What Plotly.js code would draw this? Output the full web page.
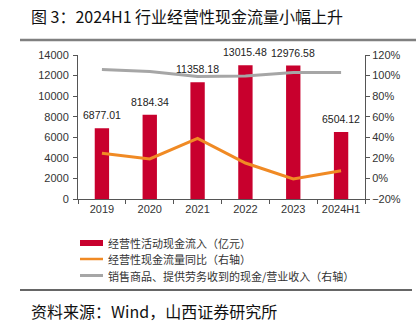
<!DOCTYPE html>
<html><head><meta charset="utf-8">
<script src="https://cdn.plot.ly/plotly-3.0.1.min.js"></script>
<style>html,body{margin:0;padding:0;background:#fff}#chart{width:416px;height:324px}</style>
</head><body><div id="chart"></div>
<script>
const categories = ["2019","2020","2021","2022","2023","2024H1"];
const inflow = [6877.01, 8184.34, 11358.18, 13015.48, 12976.58, 6504.12];
const inflowLabels = ["6877.01","8184.34","11358.18","13015.48","12976.58","6504.12"];
const yoy = [24.5, 19, 39, 15, -0.5, 7.5];
const cashRatio = [106, 104, 99, 99.5, 103, 103];
const seriesNames = ["经营性活动现金流入（亿元）","经营性现金流量同比（右轴）","销售商品、提供劳务收到的现金/营业收入（右轴）"];
const titleText = "图 3：2024H1 行业经营性现金流量小幅上升";
const sourceText = "资料来源：Wind，山西证券研究所";

const L=78, R=365, T=55, B=199, W=416, H=324;
const px = x => (x-L)/(R-L);
const py = y => (B-y)/(B-T);
const cjk = "Liberation Sans, Noto Sans CJK SC, sans-serif";
const red="#C8002D", orange="#F08A24", gray="#A6A6A6";

const traces = [
  {type:"bar", x:categories, y:inflow, name:seriesNames[0], marker:{color:red},
   showlegend:false, hoverinfo:"skip"},
  {type:"scatter", mode:"lines", x:categories, y:yoy, yaxis:"y2", name:seriesNames[1],
   line:{color:orange,width:3}, showlegend:false},
  {type:"scatter", mode:"lines", x:categories, y:cashRatio, yaxis:"y2", name:seriesNames[2],
   line:{color:gray,width:3}, showlegend:false}
];

const legendY=[243,259,275.5];
const shapes = [
  {type:"line", xref:"paper", yref:"paper", x0:px(20), x1:px(416), y0:py(40), y1:py(40), line:{color:"#808080",width:2.5}},
  {type:"line", xref:"paper", yref:"paper", x0:px(20), x1:px(412), y0:py(290), y1:py(290), line:{color:"#333",width:1.5}},
  {type:"line", xref:"paper", yref:"paper", x0:px(80), x1:px(103), y0:py(legendY[0]), y1:py(legendY[0]), line:{color:red,width:6}},
  {type:"line", xref:"paper", yref:"paper", x0:px(80), x1:px(103), y0:py(legendY[1]), y1:py(legendY[1]), line:{color:orange,width:2.5}},
  {type:"line", xref:"paper", yref:"paper", x0:px(80), x1:px(103), y0:py(legendY[2]), y1:py(legendY[2]), line:{color:gray,width:3}}
];
const annotations = [
  {xref:"paper", yref:"paper", x:px(29), y:py(16), xanchor:"left", yanchor:"middle", showarrow:false,
   text:titleText, font:{size:16,color:"#111",family:"Noto Sans CJK SC, sans-serif"}},
  {xref:"paper", yref:"paper", x:px(29), y:py(311), xanchor:"left", yanchor:"middle", showarrow:false,
   text:sourceText, font:{size:16,color:"#111",family:"Noto Sans CJK SC, sans-serif"}}
];
seriesNames.forEach((n,i)=>annotations.push({xref:"paper", yref:"paper", x:px(106), y:py(legendY[i]),
  xanchor:"left", yanchor:"middle", showarrow:false, text:n, font:{size:11,color:"#333",family:"Noto Sans CJK SC, sans-serif"}}));
categories.forEach((c,i)=>annotations.push({xref:"x", yref:"y", x:i, y:inflow[i], xanchor:"center", yanchor:"bottom",
  yshift:5, showarrow:false, text:inflowLabels[i], font:{size:10.5,color:"#222",family:cjk}}));

const layout = {
  width:W, height:H, margin:{l:L, r:W-R, t:T, b:H-B}, paper_bgcolor:"#fff", plot_bgcolor:"#fff",
  showlegend:false, bargap:0.7, font:{family:cjk,size:11,color:"#333"},
  xaxis:{type:"category", categoryorder:"array", categoryarray:categories, showline:true, linecolor:"#555", linewidth:1, ticks:"outside", tickson:"boundaries",
    ticklen:4, tickcolor:"#555", showgrid:false, zeroline:false, tickfont:{size:11,color:"#333"}},
  yaxis:{range:[0,14000], dtick:2000, tickformat:"d", showline:true, linecolor:"#555", ticks:"outside", ticklen:4, tickcolor:"#555",
    showgrid:false, zeroline:false, tickfont:{size:11,color:"#333"}, ticklabelstandoff:2},
  yaxis2:{range:[-20,120], dtick:20, overlaying:"y", side:"right", showline:true, linecolor:"#555", ticks:"outside",
    ticklen:4, tickcolor:"#555", showgrid:false, zeroline:false, ticksuffix:"%", tickfont:{size:11,color:"#333"}},
  shapes:shapes, annotations:annotations
};
Plotly.newPlot("chart", traces, layout, {staticPlot:true, displayModeBar:false});
</script></body></html>
